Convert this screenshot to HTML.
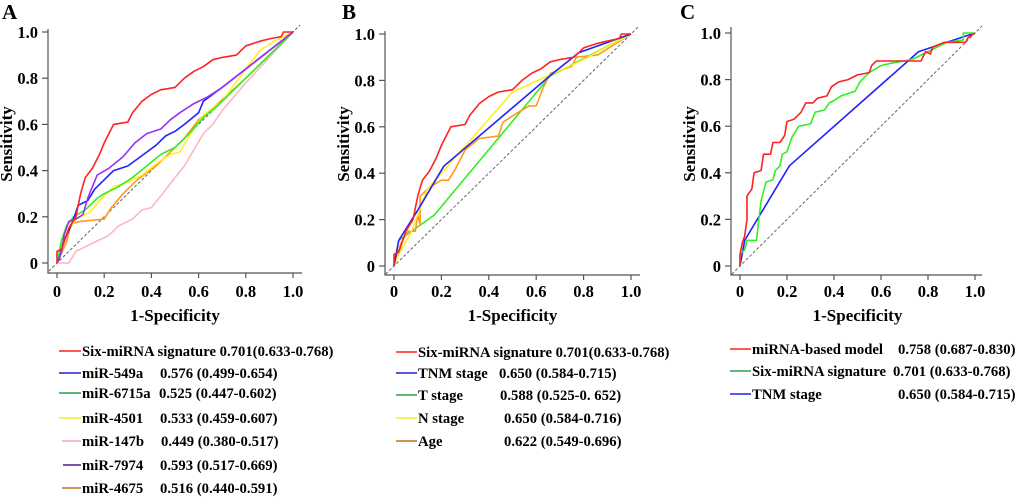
<!DOCTYPE html>
<html><head><meta charset="utf-8">
<style>
html,body{margin:0;padding:0;background:#fff;}
svg{display:block;font-family:"Liberation Serif",serif;font-weight:bold;}
</style></head>
<body>
<svg id="fig" width="1020" height="498" viewBox="0 0 1020 498" xmlns="http://www.w3.org/2000/svg"></svg>
<script>
// ---------- data ----------
const tickValues = [0, 0.2, 0.4, 0.6, 0.8, 1.0];
const tickLabels = ["0", "0.2", "0.4", "0.6", "0.8", "1.0"];

const sixMirnaFpr = [0,0,0.02,0.05,0.08,0.1,0.12,0.15,0.18,0.2,0.22,0.24,0.3,0.32,0.36,0.4,0.44,0.5,0.54,0.58,0.62,0.66,0.7,0.76,0.8,0.86,0.9,0.95,0.96,1];
const sixMirnaTpr = [0,0.05,0.06,0.15,0.2,0.3,0.37,0.41,0.47,0.52,0.56,0.6,0.61,0.65,0.7,0.73,0.75,0.76,0.8,0.83,0.85,0.88,0.89,0.9,0.94,0.96,0.97,0.98,1,1];
const mir549aFpr = [0,0.01,0.03,0.05,0.07,0.09,0.13,0.16,0.2,0.24,0.3,0.34,0.38,0.42,0.46,0.5,0.54,0.6,0.62,0.7,0.8,1];
const mir549aTpr = [0,0.02,0.1,0.14,0.19,0.25,0.27,0.32,0.36,0.4,0.42,0.45,0.48,0.51,0.55,0.57,0.6,0.65,0.7,0.76,0.84,1];
const mir7974Fpr = [0,0.02,0.03,0.05,0.08,0.11,0.13,0.17,0.22,0.28,0.33,0.38,0.44,0.48,0.52,0.58,0.64,0.7,0.8,1];
const mir7974Tpr = [0,0.05,0.12,0.18,0.19,0.21,0.28,0.38,0.41,0.46,0.52,0.56,0.58,0.62,0.65,0.69,0.72,0.76,0.84,1];
const mir6715aFpr = [0,0.02,0.04,0.07,0.12,0.17,0.2,0.26,0.32,0.38,0.44,0.5,0.56,0.62,0.68,0.8,1];
const mir6715aTpr = [0,0.1,0.16,0.2,0.23,0.28,0.3,0.33,0.37,0.42,0.47,0.5,0.56,0.63,0.68,0.8,1];
const mir4501Fpr = [0,0.02,0.05,0.08,0.14,0.18,0.24,0.3,0.36,0.42,0.48,0.52,0.56,0.62,0.7,0.8,0.86,0.92,1];
const mir4501Tpr = [0,0.08,0.14,0.19,0.22,0.27,0.33,0.35,0.38,0.43,0.47,0.48,0.55,0.64,0.7,0.84,0.92,0.96,1];
const mir4675Fpr = [0,0.04,0.06,0.1,0.2,0.23,0.28,0.34,0.42,0.48,0.54,0.6,0.66,0.8,1];
const mir4675Tpr = [0,0.09,0.17,0.18,0.19,0.24,0.3,0.36,0.42,0.48,0.54,0.62,0.67,0.8,1];
const mir147bFpr = [0,0.05,0.08,0.12,0.18,0.22,0.26,0.32,0.36,0.4,0.44,0.5,0.54,0.58,0.62,0.66,0.7,0.8,1];
const mir147bTpr = [0,0,0.05,0.07,0.1,0.12,0.16,0.19,0.23,0.24,0.29,0.37,0.42,0.49,0.56,0.6,0.66,0.78,1];

const tnmFpr = [0,0.02,0.1,0.21,0.67,0.78,1];
const tnmTpr = [0,0.11,0.24,0.43,0.83,0.92,1];
const tStageFpr = [0,0.02,0.17,0.66,1];
const tStageTpr = [0,0.11,0.22,0.82,1];
const nStageFpr = [0,0.02,0.07,0.14,0.5,0.78,1];
const nStageTpr = [0,0.05,0.14,0.33,0.75,0.88,1];
const ageFpr = [0,0.03,0.06,0.09,0.1,0.11,0.11,0.15,0.2,0.23,0.26,0.3,0.36,0.44,0.46,0.52,0.57,0.6,0.63,0.66,0.75,0.77,0.86,1];
const ageTpr = [0,0.1,0.15,0.15,0.22,0.18,0.3,0.34,0.37,0.37,0.42,0.5,0.55,0.56,0.62,0.66,0.69,0.69,0.77,0.83,0.86,0.9,0.91,1];

const modelFpr = [0,0,0.01,0.02,0.03,0.03,0.05,0.06,0.09,0.1,0.13,0.14,0.17,0.19,0.2,0.23,0.26,0.28,0.31,0.33,0.37,0.39,0.42,0.46,0.5,0.55,0.56,0.58,0.77,0.79,0.81,0.82,0.87,0.96,0.97,1];
const modelTpr = [0,0.05,0.1,0.13,0.2,0.3,0.33,0.4,0.41,0.48,0.48,0.53,0.53,0.56,0.62,0.63,0.66,0.7,0.7,0.72,0.73,0.77,0.79,0.8,0.82,0.83,0.86,0.88,0.88,0.92,0.91,0.94,0.96,0.96,0.98,1];
const sixCFpr = [0,0,0.02,0.03,0.07,0.08,0.09,0.11,0.14,0.15,0.17,0.18,0.2,0.22,0.25,0.3,0.32,0.36,0.38,0.4,0.43,0.49,0.51,0.55,0.6,0.64,0.7,0.74,0.8,0.88,0.95,0.95,1];
const sixCTpr = [0,0.05,0.07,0.11,0.11,0.2,0.28,0.36,0.37,0.41,0.43,0.48,0.49,0.55,0.6,0.61,0.66,0.67,0.7,0.71,0.73,0.75,0.79,0.83,0.86,0.87,0.88,0.89,0.92,0.96,0.97,1,1];
const tnmCFpr = [0,0.02,0.21,0.76,1];
const tnmCTpr = [0,0.11,0.43,0.92,1];

// ---------- drawing ----------
const NS = "http://www.w3.org/2000/svg";
const svg = document.getElementById("fig");
function mk(tag, attrs, parent) {
  const e = document.createElementNS(NS, tag);
  for (const k in attrs) e.setAttribute(k, attrs[k]);
  (parent || svg).appendChild(e);
  return e;
}

const panels = [
  { id: "a", letter: "A", lx: 2, axX: 48, axY: 273, x0: 57, x1: 293, y0: 263, y1: 32, axTop: 29, axRight: 302,
    series: [
      { name: "mir-147b", fpr: mir147bFpr, tpr: mir147bTpr, color: "#ffb6c1" },
      { name: "mir-4675", fpr: mir4675Fpr, tpr: mir4675Tpr, color: "#ff9922" },
      { name: "mir-4501", fpr: mir4501Fpr, tpr: mir4501Tpr, color: "#ffee22" },
      { name: "mir-6715a", fpr: mir6715aFpr, tpr: mir6715aTpr, color: "#33ee22" },
      { name: "mir-549a", fpr: mir549aFpr, tpr: mir549aTpr, color: "#2222ff" },
      { name: "mir-7974", fpr: mir7974Fpr, tpr: mir7974Tpr, color: "#9933ee" },
      { name: "six-mirna", fpr: sixMirnaFpr, tpr: sixMirnaTpr, color: "#ff2222" }
    ] },
  { id: "b", letter: "B", lx: 342, axX: 385, axY: 275, x0: 394, x1: 631, y0: 266, y1: 34, axTop: 31, axRight: 640,
    series: [
      { name: "t-stage", fpr: tStageFpr, tpr: tStageTpr, color: "#33ee22" },
      { name: "age", fpr: ageFpr, tpr: ageTpr, color: "#ff9922" },
      { name: "n-stage", fpr: nStageFpr, tpr: nStageTpr, color: "#ffee22" },
      { name: "tnm-stage", fpr: tnmFpr, tpr: tnmTpr, color: "#2222ff" },
      { name: "six-mirna", fpr: sixMirnaFpr, tpr: sixMirnaTpr, color: "#ff2222" }
    ] },
  { id: "c", letter: "C", lx: 680, axX: 731, axY: 275, x0: 740, x1: 975, y0: 266, y1: 33, axTop: 27, axRight: 982,
    series: [
      { name: "tnm-stage", fpr: tnmCFpr, tpr: tnmCTpr, color: "#2222ff" },
      { name: "six-mirna", fpr: sixCFpr, tpr: sixCTpr, color: "#33ee22" },
      { name: "mirna-model", fpr: modelFpr, tpr: modelTpr, color: "#ff2222" }
    ] }
];

panels.forEach(p => {
  const g = mk("g", {});
  
  
  const sx = v => p.x0 + v * (p.x1 - p.x0);
  const sy = v => p.y0 + v * (p.y1 - p.y0);

  const let_ = mk("text", { x: p.lx, y: 19, "font-size": 21 }, g);
  let_.textContent = p.letter;
  
  

  const ax = mk("path", { d: `M${p.axX},${p.axTop} V${p.axY} H${p.axRight}`, fill: "none", stroke: "#555", "stroke-width": 1.2 }, g);
  
  

  tickValues.forEach((v, i) => {
    mk("line", { x1: p.axX - 6, x2: p.axX, y1: sy(v), y2: sy(v), stroke: "#555", "stroke-width": 1.2 }, g);
    const yt = mk("text", { x: p.axX - 10, y: sy(v) + 6, "font-size": 16.5, "text-anchor": "end" }, g);
    yt.textContent = tickLabels[i];
    
    
    mk("line", { x1: sx(v), x2: sx(v), y1: p.axY, y2: p.axY + 5, stroke: "#555", "stroke-width": 1.2 }, g);
    const xt = mk("text", { x: sx(v), y: 297, "font-size": 16.5, "text-anchor": "middle" }, g);
    xt.textContent = tickLabels[i];
    
    
  });

  const xl = mk("text", { x: (p.x0 + p.x1) / 2, y: 321, "font-size": 17, "text-anchor": "middle" }, g);
  xl.textContent = "1-Specificity";
  
  
  const ylx = p.axX - 36;
  const yl = mk("text", { x: ylx, y: 144, "font-size": 17, "text-anchor": "middle", transform: `rotate(-90 ${ylx} 144)` }, g);
  yl.textContent = "Sensitivity";
  
  

  const diag = mk("line", { x1: sx(-0.035), y1: sy(-0.035), x2: sx(1.03), y2: sy(1.03), stroke: "#666", "stroke-width": 1, "stroke-dasharray": "3,2" }, g);
  
  

  p.series.forEach(s => {
    let d = "";
    s.fpr.forEach((f, i) => { d += (i ? "L" : "M") + sx(f).toFixed(1) + "," + sy(s.tpr[i]).toFixed(1); });
    const pa = mk("path", { d: d, fill: "none", stroke: s.color, "stroke-width": 1.6, "stroke-linejoin": "round" }, g);
    
    
  });
});

// ---------- legends ----------
const legends = [
  { id: "a", lineX: 59, textX: 82, valX: 160, rows: [
    { c: "#ff2020", label: "Six-miRNA signature 0.701(0.633-0.768)", val: "", y: 351 },
    { c: "#2020cc", label: "miR-549a", val: "0.576 (0.499-0.654)", y: 373 },
    { c: "#2a9d4a", label: "miR-6715a", val: "0.525 (0.447-0.602)", y: 393, vx: 159 },
    { c: "#eeee22", label: "miR-4501", val: "0.533 (0.459-0.607)", y: 418 },
    { c: "#f4a6b0", label: "miR-147b", val: "0.449 (0.380-0.517)", y: 441, vx: 161, lx: 62 },
    { c: "#5a1a8a", label: "miR-7974", val: "0.593 (0.517-0.669)", y: 465, lx: 63 },
    { c: "#b8741a", label: "miR-4675", val: "0.516 (0.440-0.591)", y: 488, lx: 62 }
  ] },
  { id: "b", lineX: 396, textX: 418, valX: 500, rows: [
    { c: "#ff2020", label: "Six-miRNA signature 0.701(0.633-0.768)", val: "", y: 352 },
    { c: "#2020cc", label: "TNM stage", val: "0.650 (0.584-0.715)", y: 373, vx: 499 },
    { c: "#2a9d4a", label: "T stage", val: "0.588 (0.525-0. 652)", y: 395 },
    { c: "#eeee22", label: "N stage", val: "0.650 (0.584-0.716)", y: 418, vx: 504 },
    { c: "#b8741a", label: "Age", val: "0.622 (0.549-0.696)", y: 441, vx: 504 }
  ] },
  { id: "c", lineX: 730, textX: 752, valX: 898, rows: [
    { c: "#ff2020", label: "miRNA-based model", val: "0.758 (0.687-0.830)", y: 349 },
    { c: "#2a9d4a", label: "Six-miRNA signature", val: "0.701 (0.633-0.768)", y: 371, vx: 893 },
    { c: "#2020ee", label: "TNM stage", val: "0.650 (0.584-0.715)", y: 394 }
  ] }
];
legends.forEach(L => {
  const g = mk("g", {});
  
  
  L.rows.forEach(r => {
    const e = mk("g", {}, g);
    
    
    mk("line", { x1: r.lx || L.lineX, x2: L.textX - 1, y1: r.y, y2: r.y, stroke: r.c, "stroke-width": 1.6 }, e);
    const t = mk("text", { x: L.textX, y: r.y + 5, "font-size": 14.7 }, e);
    t.textContent = r.label;
    if (r.val) {
      const v = mk("text", { x: r.vx || L.valX, y: r.y + 5, "font-size": 14.7 }, e);
      v.textContent = r.val;
    }
  });
});
</script>
</body></html>
